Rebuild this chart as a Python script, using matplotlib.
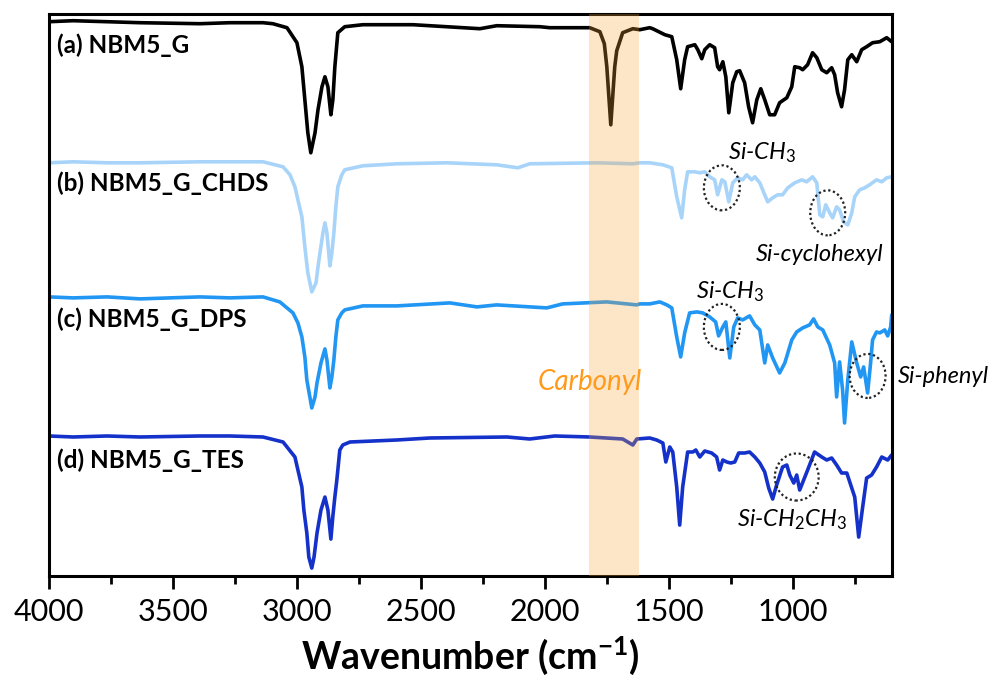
import numpy as np
import matplotlib as mpl
mpl.use('Agg')
import matplotlib.pyplot as plt
from matplotlib.patches import Ellipse

plt.rcParams['font.family'] = ['Lato', 'DejaVu Sans']
plt.rcParams['mathtext.fontset'] = 'custom'
plt.rcParams['mathtext.it'] = 'Lato:italic'
plt.rcParams['mathtext.rm'] = 'Lato'
plt.rcParams['mathtext.bf'] = 'Lato:bold'

# spectra: wavenumber (cm-1) and stacked transmittance (a.u.)
wn_a = [4000, 3903, 3766, 3633, 3391, 3270, 3137, 3097, 3040, 3000, 2980, 2968, 2956, 2944,
        2927, 2915, 2899, 2887, 2875, 2863, 2855, 2847, 2835, 2807, 2734, 2532, 2262, 2194,
        2020, 1980, 1819, 1778, 1760, 1750, 1742, 1734, 1726, 1718, 1710, 1686, 1645, 1617,
        1577, 1565, 1516, 1488, 1468, 1452, 1436, 1424, 1395, 1383, 1367, 1355, 1335, 1315,
        1303, 1295, 1282, 1270, 1258, 1242, 1226, 1214, 1194, 1178, 1162, 1145, 1129, 1113,
        1093, 1073, 1053, 1024, 1004, 992, 972, 960, 940, 920, 903, 883, 863, 843, 831, 819,
        803, 791, 778, 762, 742, 722, 702, 678, 649, 621, 601]
t_a = [554, 555, 554, 553, 552, 553, 553, 552, 548, 533, 509, 476, 443, 423,
       443, 466, 489, 499, 489, 461, 476, 509, 543, 549, 551, 551, 547, 550,
       549, 548, 548, 544, 532, 509, 480, 451, 480, 509, 525, 543, 547, 546,
       548, 547, 541, 539, 516, 487, 516, 529, 531, 526, 517, 526, 531, 528,
       509, 506, 514, 499, 463, 493, 504, 505, 493, 469, 453, 476, 487, 476,
       461, 461, 473, 478, 489, 509, 508, 506, 511, 523, 518, 506, 503, 508, 501, 483,
       469, 486, 516, 521, 514, 526, 529, 533, 534, 538, 534]

wn_b = [4000, 3903, 3766, 3633, 3391, 3270, 3137, 3056, 3028, 3008, 2996, 2980, 2968, 2956,
        2940, 2923, 2915, 2907, 2895, 2887, 2879, 2867, 2859, 2851, 2843, 2835, 2819, 2807,
        2734, 2597, 2395, 2194, 2109, 2061, 1790, 1645, 1617,
        1577, 1524, 1488, 1468, 1448, 1436, 1424, 1395, 1375, 1355, 1335, 1315, 1303, 1286,
        1274, 1258, 1242, 1222, 1202, 1186, 1166, 1153, 1133, 1113, 1101, 1081, 1061, 1041,
        1020, 992, 964, 944, 920, 903, 891, 879, 867, 851, 839, 823, 811, 795, 778, 762,
        750, 730, 710, 690, 662, 641, 621, 601]
t_b = [413, 414, 413, 413, 414, 414, 414, 409, 401, 389, 376, 359, 329, 303,
       284, 293, 309, 323, 343, 353, 343, 310, 323, 343, 369, 389, 401, 406,
       410, 412, 413, 411, 408, 412, 413, 412, 413,
       413, 411, 408, 379, 358, 386, 404, 404, 403, 404, 399, 396, 381, 396,
       394, 374, 393, 398, 396, 401, 396, 399, 393, 381, 374, 378, 381, 381,
       388, 393, 396, 394, 399, 393, 361, 359, 371, 363, 358, 369, 366, 354, 351, 363,
       379, 386, 388, 391, 396, 394, 398, 399]

wn_c = [4000, 3903, 3766, 3633, 3391, 3270, 3137, 3069, 3016, 2996, 2980, 2968, 2960, 2940,
        2927, 2919, 2903, 2887, 2879, 2867, 2859, 2851, 2843, 2835, 2819, 2807,
        2734, 2597, 2383, 2274, 2194, 1992, 1928, 1750, 1629, 1617,
        1577, 1536, 1508, 1488, 1468, 1452, 1436, 1416, 1387, 1363, 1335, 1311, 1299, 1282,
        1270, 1254, 1238, 1222, 1202, 1174, 1153, 1133, 1113, 1101, 1081, 1053, 1032, 1004,
        984, 960, 932, 916, 899, 879, 851, 831, 823, 811, 799, 791, 778, 762, 742, 726,
        714, 698, 686, 678, 662, 649, 629, 617, 605, 601]
t_c = [279, 278, 279, 277, 279, 278, 279, 274, 263, 253, 239, 219, 196, 168,
       179, 193, 213, 227, 216, 188, 199, 216, 239, 256, 263, 266,
       270, 270, 273, 269, 271, 268, 272, 274, 271, 272,
       272, 274, 271, 268, 239, 219, 243, 263, 264, 263, 259, 254, 240, 249,
       254, 218, 249, 258, 256, 260, 251, 246, 213, 231, 218, 203, 213, 236,
       244, 248, 251, 257, 249, 246, 231, 213, 179, 214, 186, 153, 196, 234, 213, 199,
       209, 183, 213, 236, 244, 243, 246, 240, 249, 261]

wn_d = [4000, 3903, 3766, 3633, 3391, 3270, 3137, 3056, 3008, 2996, 2980, 2972, 2960, 2952,
        2940, 2931, 2919, 2903, 2887, 2875, 2863, 2855, 2847, 2839, 2827, 2815, 2786,
        2597, 2464, 2153, 2061, 1960, 1819, 1686, 1645, 1629, 1577,
        1549, 1524, 1512, 1496, 1484, 1468, 1456, 1444, 1424, 1403, 1391, 1375, 1355, 1327,
        1307, 1295, 1282, 1266, 1250, 1234, 1218, 1194, 1174, 1153, 1133, 1113, 1097, 1081,
        1065, 1041, 1024, 1012, 996, 984, 972, 956, 940, 912, 883, 863, 843, 823, 803, 782,
        770, 750, 734, 718, 702, 682, 662, 641, 617, 601]
t_d = [140, 139, 140, 139, 140, 140, 139, 134, 119, 106, 89, 66, 43, 19,
       8, 19, 43, 66, 79, 66, 37, 60, 79, 96, 126, 131, 134,
       136, 138, 139, 137, 140, 139, 137, 131, 137, 138,
       136, 133, 114, 129, 124, 89, 51, 89, 124, 124, 126, 119, 125, 123,
       119, 106, 116, 114, 113, 114, 123, 123, 124, 119, 113, 104, 88, 77,
       91, 109, 111, 101, 93, 101, 86, 96, 106, 124, 119, 116, 118, 111, 103, 103,
       94, 79, 39, 69, 98, 101, 109, 119, 116, 121]

names = ['(a) NBM5_G', '(b) NBM5_G_CHDS', '(c) NBM5_G_DPS', '(d) NBM5_G_TES']
colors = ['#000000', '#A8D4FA', '#2196F3', '#1431C9']
label_y = [531, 393, 257, 116]

fig = plt.figure(figsize=(9.94, 6.85), dpi=100)
ax = fig.add_axes([0.0493, 0.159, 0.8480, 0.821])

for wn, t, c in zip([wn_a, wn_b, wn_c, wn_d], [t_a, t_b, t_c, t_d], colors):
    ax.plot(wn, t, color=c, lw=2.6, solid_joinstyle='round', solid_capstyle='round', zorder=2)
for name, y in zip(names, label_y):
    ax.text(3966, y, name, fontsize=17.5, fontweight='bold', va='center', ha='left')

# carbonyl band
ax.axvspan(1820, 1620, color='#F9A53C', alpha=0.28, lw=0, zorder=3)
ax.text(1819, 194, 'Carbonyl', color='#FF9A1A', fontsize=20, style='italic',
        ha='center', va='center')

# dotted circles and group labels
circles = [(1286, 388, 145, 45), (859, 363, 141, 45), (1286, 249, 145, 46),
           (698, 200, 145, 44), (984, 99, 177, 47)]
for cx, cy, w, h in circles:
    ax.add_patch(Ellipse((cx, cy), w, h, fill=False, ec='#222222', lw=1.6, ls=(0, (1, 1.2)), zorder=4))
ax.text(1125, 423, 'Si-CH$_3$', fontsize=17, style='italic', ha='center', va='center')
ax.text(891, 321, 'Si-cyclohexyl', fontsize=17, style='italic', ha='center', va='center')
ax.text(1254, 284, 'Si-CH$_3$', fontsize=17, style='italic', ha='center', va='center')
ax.text(577, 199, 'Si-phenyl', fontsize=17, style='italic', ha='left', va='center', clip_on=False)
ax.text(1004, 56, 'Si-CH$_2$CH$_3$', fontsize=17, style='italic', ha='center', va='center')

ax.set_xlim(4000, 600)
ax.set_ylim(0, 562)
ax.set_xticks([4000, 3500, 3000, 2500, 2000, 1500, 1000])
ax.set_xticks(np.arange(3750, 600, -500), minor=True)
ax.set_yticks([])
ax.tick_params(axis='x', which='major', direction='out', length=9, width=2, labelsize=22, pad=7)
ax.tick_params(axis='x', which='minor', direction='out', length=6, width=2)
for s in ax.spines.values():
    s.set_linewidth(2.2)
ax.set_xlabel('Wavenumber (cm$^{\\mathbf{-1}}$)', fontsize=27, fontweight='bold', labelpad=6)

fig.savefig('out.png', dpi=100)
